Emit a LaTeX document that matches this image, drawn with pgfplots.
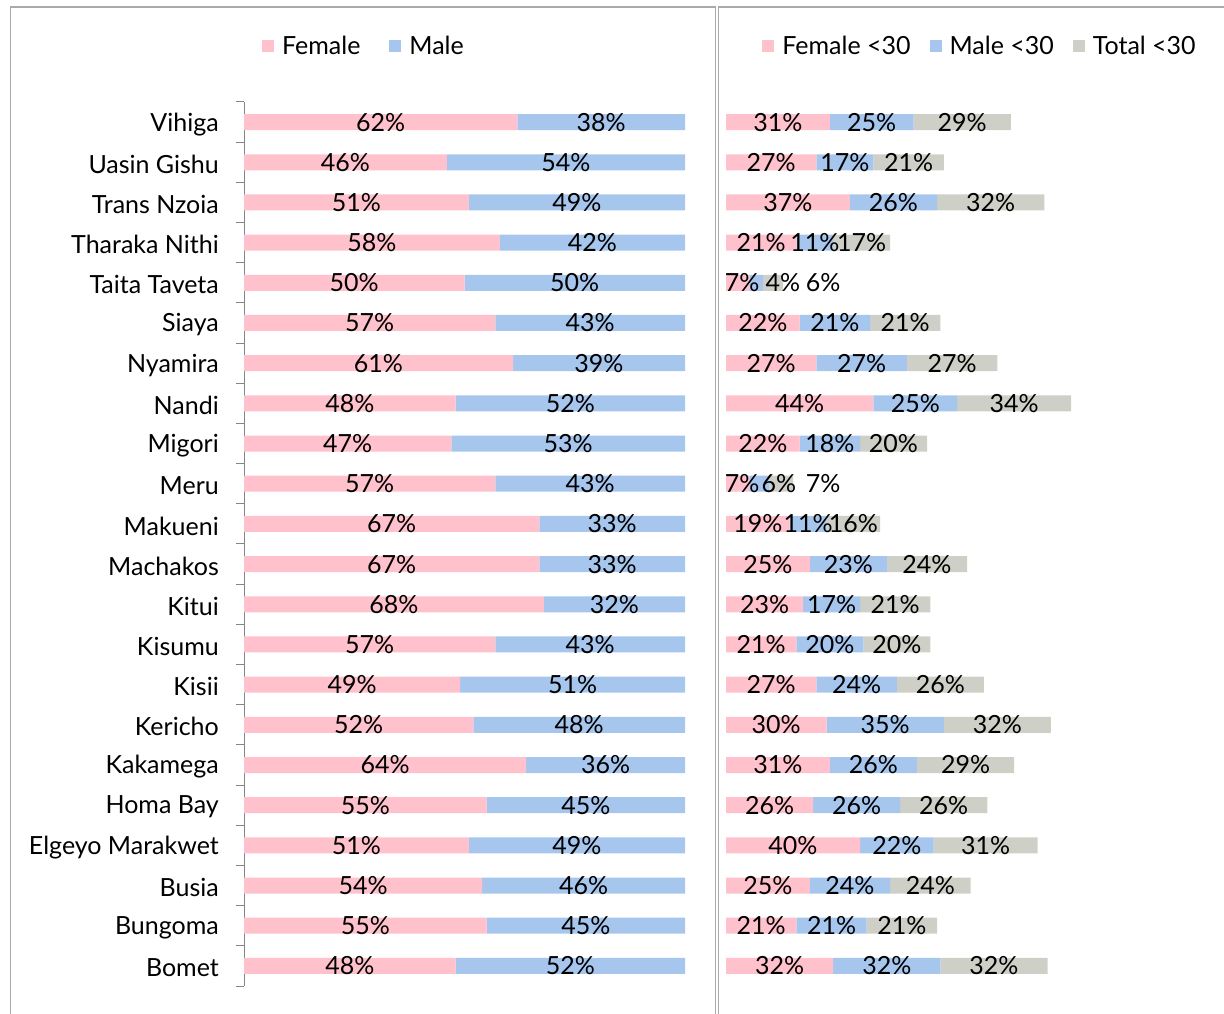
\documentclass[border=0pt]{standalone}
\usepackage{pgfplots}
\pgfplotsset{compat=1.18}
\usepackage{pgfplotstable}
\usepackage{fontspec}
\setmainfont{Lato}

\definecolor{fpink}{RGB}{255,193,204}
\definecolor{mblue}{RGB}{166,198,237}
\definecolor{tgray}{RGB}{206,207,199}
\definecolor{framegray}{RGB}{170,170,170}
\definecolor{axisgray}{RGB}{134,134,134}

% share of female / male staff, Bomet (0) ... Vihiga (21)
\pgfplotstableread{
y  F  M
21 62 38
20 46 54
19 51 49
18 58 42
17 50 50
16 57 43
15 61 39
14 48 52
13 47 53
12 57 43
11 67 33
10 67 33
9  68 32
8  57 43
7  49 51
6  52 48
5  64 36
4  55 45
3  51 49
2  54 46
1  55 45
0  48 52
}\sexdata

% under-30 shares; fx/mx/tx = where each label sits
\pgfplotstableread{
y  F  M  T  fx   mx   tx
21 31 25 29 15.5 43.5 70.5
20 27 17 21 13.5 35.5 54.5
19 37 26 32 18.5 50   79
18 21 11 17 10.5 26.5 40.5
17 7  4  6  4.8  17   29
16 22 21 21 11   32.5 53.5
15 27 27 27 13.5 40.5 67.5
14 44 25 34 22   56.5 86
13 22 18 20 11   31   50
12 7  6  7  4.8  15.8 29
11 19 11 16 9.5  24.5 38
10 25 23 24 12.5 36.5 60
9  23 17 21 11.5 31.5 50.5
8  21 20 20 10.5 31   51
7  27 24 26 13.5 39   64
6  30 35 32 15   47.5 81
5  31 26 29 15.5 44   71.5
4  26 26 26 13   39   65
3  40 22 31 20   51   77.5
2  25 24 24 12.5 37   61
1  21 21 21 10.5 31.5 52.5
0  32 32 32 16   48   80
}\youthdata

\tikzset{bigfont/.style={font=\fontsize{25}{30}\selectfont}}
\pgfplotsset{
  sqlegend/.style={legend image code/.code={\fill[##1] (0pt,-6pt) rectangle (12pt,6pt); \path (18pt,0pt);}},
  leftframe/.style={at={(244pt,27pt)}, anchor=south west, scale only axis,
    width=441pt, height=884pt, xmin=0, xmax=100, ymin=-0.5, ymax=21.5, clip=false},
  rightframe/.style={at={(726pt,27pt)}, anchor=south west, scale only axis,
    width=469pt, height=884pt, xmin=0, xmax=140, ymin=-0.5, ymax=21.5, clip=false},
  barlabels/.style={draw=none, mark=none, point meta=explicit symbolic,
    nodes near coords={\pgfplotspointmeta\%}, nodes near coords align={center},
    every node near coord/.append style={bigfont, anchor=center, text=black, inner sep=0pt}},
}

\begin{document}
\begin{tikzpicture}
\path[use as bounding box] (0pt,0pt) rectangle (1224pt,1013pt);
\begin{scope}
\clip (0pt,0pt) rectangle (1224pt,1013pt);
\draw[framegray, line width=1.3pt] (10.5pt,-20pt) -- (10.5pt,1006pt) -- (715.5pt,1006pt) -- (715.5pt,-20pt);
\draw[framegray, line width=1.3pt] (718.5pt,-20pt) -- (718.5pt,1006pt) -- (1260pt,1006pt);
\end{scope}

% left panel: female / male
\begin{axis}[leftframe,
  xbar stacked, bar width=16pt,
  axis x line=none, axis y line*=left,
  y axis line style={draw=axisgray, line width=1pt},
  ytick={-0.5,0.5,...,21.5}, yticklabels={},
  major tick length=8pt, tick align=outside,
  ytick style={draw=axisgray, line width=1pt},
  extra y ticks={0,...,21},
  extra y tick labels={Bomet,Bungoma,Busia,Elgeyo Marakwet,Homa Bay,Kakamega,Kericho,Kisii,Kisumu,Kitui,Machakos,Makueni,Meru,Migori,Nandi,Nyamira,Siaya,Taita Taveta,Tharaka Nithi,Trans Nzoia,Uasin Gishu,Vihiga},
  extra y tick style={major tick length=0pt, ytick style={draw=none},
    yticklabel style={bigfont, anchor=east, inner sep=0pt, xshift=-25pt, yshift=-2pt}},
  sqlegend,
  legend style={at={(axis description cs:0.272,1.063)}, anchor=center, draw=none, fill=none,
    legend columns=-1, bigfont, /tikz/every even column/.append style={column sep=27pt}},
]
\addplot[fill=fpink, draw=none] table[x=F, y=y] {\sexdata};
\addplot[fill=mblue, draw=none] table[x=M, y=y] {\sexdata};
\legend{Female, Male}
\end{axis}
\begin{axis}[leftframe, hide axis]
\addplot[barlabels] table[x expr=\thisrow{F}/2, y=y, meta=F] {\sexdata};
\addplot[barlabels] table[x expr=\thisrow{F}+\thisrow{M}/2, y=y, meta=M] {\sexdata};
\end{axis}

% right panel: under 30
\begin{axis}[rightframe,
  xbar stacked, bar width=16pt, hide axis,
  sqlegend,
  legend style={at={(axis description cs:0.5416,1.063)}, anchor=center, draw=none, fill=none,
    legend columns=-1, bigfont, /tikz/every even column/.append style={column sep=17pt}},
]
\addplot[fill=fpink, draw=none] table[x=F, y=y] {\youthdata};
\addplot[fill=mblue, draw=none] table[x=M, y=y] {\youthdata};
\addplot[fill=tgray, draw=none] table[x=T, y=y] {\youthdata};
\legend{Female <30, Male <30, Total <30}
\end{axis}
\begin{axis}[rightframe, hide axis]
\addplot[barlabels] table[x=fx, y=y, meta=F] {\youthdata};
\addplot[barlabels] table[x=mx, y=y, meta=M] {\youthdata};
\addplot[barlabels] table[x=tx, y=y, meta=T] {\youthdata};
\end{axis}
\end{tikzpicture}
\end{document}
